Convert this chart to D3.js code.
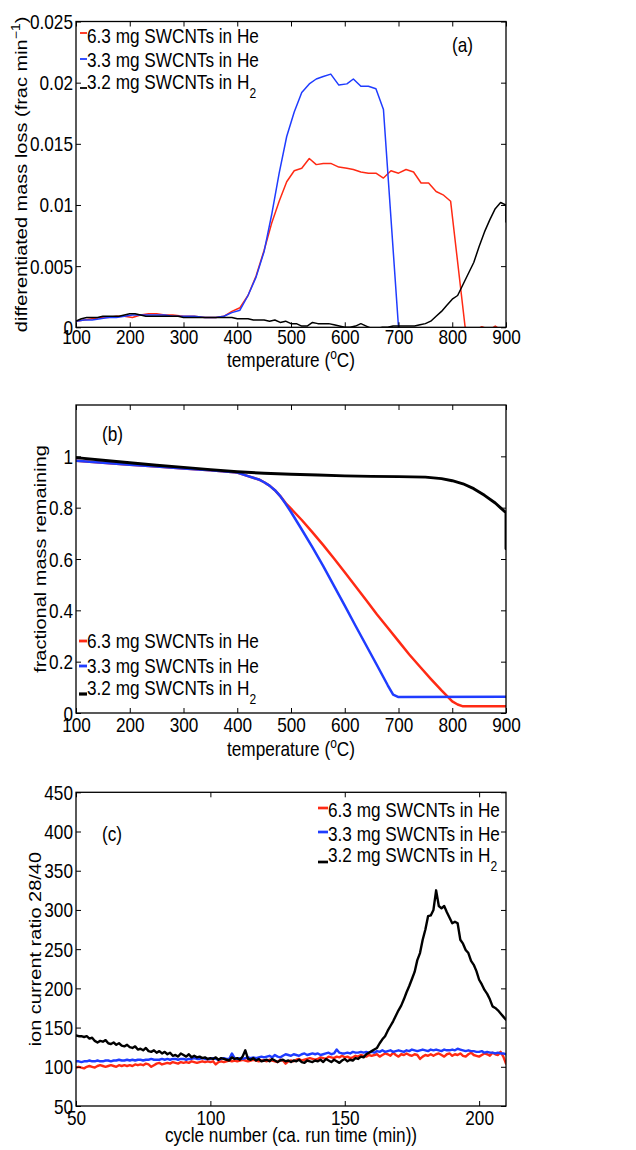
<!DOCTYPE html>
<html><head><meta charset="utf-8">
<script src="https://cdn.jsdelivr.net/npm/d3@7"></script>
<style>html,body{margin:0;padding:0;background:#fff;} svg{display:block;}</style>
</head><body><svg id="chart" width="636" height="1150"></svg>
<script>
// ---------------- DATA ----------------
const seriesNames = ["6.3 mg SWCNTs in He", "3.3 mg SWCNTs in He", "3.2 mg SWCNTs in H"];

// Panel (a): differentiated mass loss vs temperature
const tRedA = [100,115,130,145,160,175,190,205,220,235,250,265,280,300,320,340,360,375,390,405,420,435,450,464,478,492,506,520,534,547,560,574,589,604,616,630,644,658,672,686,700,714,728,742,756,770,784,797,824,840,855,870,880,890,900];
const vRedA = [0.0005,0.0006,0.0007,0.0008,0.0008,0.0009,0.0009,0.0008,0.0010,0.0011,0.0011,0.0010,0.0010,0.0009,0.0009,0.0008,0.0008,0.0009,0.0013,0.0016,0.0026,0.0042,0.0063,0.0085,0.0103,0.0119,0.0128,0.0130,0.0138,0.0133,0.0134,0.0134,0.0131,0.0130,0.0129,0.0127,0.0126,0.0126,0.0122,0.0128,0.0126,0.0129,0.0127,0.0118,0.0118,0.0111,0.0108,0.0103,0.0000,-0.0003,0.00005,-0.0002,0.0001,-0.0002,-0.0003];
const tBlueA = [100,115,130,145,160,175,190,205,220,235,250,265,280,300,320,340,360,375,390,405,420,435,450,464,478,492,506,520,534,547,560,574,589,604,616,630,644,658,672,700,720,760,800,850,898,900];
const vBlueA = [0.0005,0.0006,0.0006,0.0007,0.0008,0.0008,0.0009,0.0010,0.0010,0.0010,0.0010,0.0010,0.0009,0.0009,0.0009,0.0008,0.0008,0.0009,0.0012,0.0014,0.0026,0.0041,0.0062,0.0092,0.0126,0.0156,0.0176,0.0192,0.0199,0.0203,0.0205,0.0207,0.0198,0.0199,0.0203,0.0197,0.0197,0.0195,0.0178,0.0000,-0.0003,-0.0003,-0.0003,-0.0003,-0.0003,0.0000];
const tBlackA = [100,110,120,130,140,150,160,170,180,190,200,210,220,230,240,250,260,270,280,290,300,310,320,330,340,350,360,370,380,390,400,410,420,430,440,450,460,470,480,490,500,510,520,530,540,550,560,570,580,590,600,610,620,630,640,650,660,670,680,690,700,710,720,730,740,750,760,770,780,790,800,810,820,830,840,850,860,870,880,890,900,900];
const vBlackA = [0.0005,0.0007,0.0008,0.0008,0.0008,0.0009,0.0009,0.0009,0.0009,0.0010,0.0011,0.0011,0.0010,0.0009,0.0009,0.0009,0.0009,0.0009,0.0009,0.0009,0.0008,0.0008,0.0008,0.0008,0.0008,0.0008,0.0008,0.0008,0.0008,0.0008,0.0007,0.0007,0.0007,0.0006,0.0006,0.0006,0.0005,0.0006,0.0004,0.0005,0.0003,0.0003,0.0001,0.0001,0.0004,0.0003,0.0003,0.0003,0.0002,0.0001,0.0000,0.0000,0.0001,0.0003,0.0001,-0.0001,-0.0001,0.0000,0.0000,0.0001,0.0001,0.0001,0.0001,0.0001,0.0002,0.0003,0.0005,0.0009,0.0013,0.0018,0.0023,0.0026,0.0035,0.0044,0.0053,0.0066,0.0078,0.0088,0.0097,0.0102,0.0100,0.0086];
const xTicksA = [100,200,300,400,500,600,700,800,900];
const yTicksA = [0,0.005,0.01,0.015,0.02,0.025];
const yTickLabelsA = ["0","0.005","0.01","0.015","0.02","0.025"];

// Panel (b): fractional mass remaining vs temperature
const tRedB = [100,150,200,250,300,350,400,420,440,450,460,470,480,490,500,520,540,560,580,600,620,640,660,680,700,720,740,760,780,800,810,820,900];
const vRedB = [0.983,0.975,0.967,0.960,0.953,0.946,0.937,0.923,0.910,0.899,0.886,0.868,0.845,0.818,0.796,0.752,0.704,0.654,0.602,0.548,0.494,0.439,0.384,0.332,0.280,0.228,0.180,0.133,0.088,0.045,0.033,0.026,0.026];
const tBlueB = [100,150,200,250,300,350,400,420,440,450,460,470,480,490,500,520,540,560,580,600,620,640,660,680,690,700,900];
const vBlueB = [0.983,0.975,0.967,0.960,0.953,0.946,0.937,0.923,0.910,0.899,0.886,0.868,0.845,0.815,0.783,0.715,0.645,0.572,0.495,0.418,0.340,0.263,0.186,0.108,0.072,0.062,0.063];
const tBlackB = [100,150,200,250,300,350,400,450,500,550,600,650,700,750,780,800,820,840,860,880,890,900,900];
const vBlackB = [0.995,0.985,0.975,0.965,0.957,0.948,0.940,0.934,0.930,0.927,0.924,0.922,0.921,0.919,0.913,0.905,0.893,0.874,0.848,0.818,0.799,0.780,0.640];
const xTicksB = [100,200,300,400,500,600,700,800,900];
const yTicksB = [0,0.2,0.4,0.6,0.8,1];
const yTickLabelsB = ["0","0.2","0.4","0.6","0.8","1"];

// Panel (c): ion current ratio 28/40 vs cycle number (cycles 50..210)
const cycleFirst = 50, cycleLast = 210;
const ionRed = [99,100,99,98,100,101,100,99,101,102, 101,100,101,102,101,100,102,101,102,101, 102,101,103,102,103,102,104,103,100,102, 104,105,103,104,105,104,106,105,104,106, 105,106,105,107,106,105,106,107,106,107, 106,107,103,106,107,106,107,108,107,108, 107,108,109,108,107,108,109,108,107,108, 108,107,109,108,107,106,109,108,104,107, 108,107,109,110,108,109,110,111,110,109, 110,112,111,110,113,112,111,113,112,114, 112,113,111,112,114,113,115,114,113,115, 114,115,116,113,115,117,116,114,118,115, 113,116,115,117,115,114,116,115,110,113, 115,114,116,114,116,117,115,113,116,117, 114,116,115,117,114,113,116,118,115,114, 113,115,117,116,114,118,116,115,119,113, 104];
const ionBlue = [107,107,106,107,107,108,107,107,108,107, 107,108,108,107,108,108,109,108,108,109, 108,109,108,109,109,108,109,109,110,109, 109,109,110,109,110,109,110,110,109,110, 110,109,110,110,111,110,110,111,110,110, 110,111,110,109,110,111,110,110,117,111, 110,111,110,111,112,111,112,111,112,113, 112,113,114,112,115,113,112,114,116,115, 114,116,115,114,116,117,115,116,117,116, 117,115,116,117,118,116,117,122,118,117, 117,118,117,119,118,118,119,118,119,118, 119,118,120,119,121,119,120,121,119,120, 121,120,119,121,120,122,121,120,121,122, 121,120,122,121,122,121,120,122,121,121, 122,121,123,122,121,120,121,120,120,119, 119,120,118,119,118,118,117,118,117,117, 116];
const ionBlack = [140,139,139,138,139,136,137,133,131,133, 132,134,130,129,131,128,130,127,126,128, 125,124,126,122,123,121,124,120,119,121, 118,120,117,119,116,118,114,115,113,117, 115,113,116,112,114,112,113,111,112,110, 111,110,112,109,111,110,109,108,112,110, 111,109,113,121,110,109,111,108,110,107, 108,109,107,110,108,106,108,109,107,108, 106,108,107,109,106,105,108,107,106,108, 107,109,106,110,108,106,109,107,105,108, 110,107,109,108,111,110,113,112,116,118, 120,122,124,130,135,139,146,152,158,165, 172,178,186,195,203,212,221,236,245,262, 275,292,293,300,325,305,302,305,297,290, 283,285,283,262,257,249,245,235,230,222, 211,205,198,193,186,177,175,172,168,164, 160];
const xTicksC = [50,100,150,200];
const yTicksC = [50,100,150,200,250,300,350,400,450];

// ---------------- DRAWING ----------------
const FONT = "'Liberation Sans', Arial, Helvetica, sans-serif";
const SX = 0.86, FS = 20;
const RED = "#ff2a14", BLUE = "#1f3cff", BLACK = "#000000";
const svg = d3.select("#chart");
const X0 = 76, X1 = 506;

function hText(g, x, y, anchor, size) {
  return g.append("text")
    .attr("transform", `translate(${x},${y}) scale(${SX},1)`)
    .attr("text-anchor", anchor).attr("font-family", FONT)
    .attr("font-size", size || FS).attr("fill", "#000");
}

function panel(opts) {
  const g = svg.append("g");
  const x = d3.scaleLinear().domain(opts.xDomain).range([X0, X1]);
  const y = d3.scaleLinear().domain(opts.yDomain).range([opts.bottom, opts.top]);
  const id = "clip" + opts.name;
  svg.append("clipPath").attr("id", id).append("rect")
    .attr("x", X0).attr("y", opts.top).attr("width", X1 - X0).attr("height", opts.bottom - opts.top);

  const line = d3.line().x(d => x(d[0])).y(d => y(d[1]));
  const lg = g.append("g").attr("clip-path", `url(#${id})`);
  opts.series.forEach(s => {
    lg.append("path").datum(d3.zip(s.t, s.v)).attr("d", line)
      .attr("fill", "none").attr("stroke", s.color).attr("stroke-width", s.w)
      .attr("stroke-linejoin", "round").attr("stroke-linecap", "round");
  });

  const styleAxis = (sel) => { sel.select(".domain").remove(); sel.attr("font-family", FONT).attr("font-size", FS); };
  g.append("g").attr("transform", `translate(0,${opts.bottom})`)
    .call(d3.axisBottom(x).tickValues(opts.xTicks).tickSize(-5).tickFormat(d => String(d)))
    .call(styleAxis)
    .call(a => a.selectAll(".tick text").attr("x", null).attr("y", null).attr("dy", null)
      .attr("transform", `translate(0,${opts.xLabOff}) scale(${SX},1)`));
  g.append("g").attr("transform", `translate(0,${opts.top})`)
    .call(d3.axisTop(x).tickValues(opts.xTicks).tickSize(-5).tickFormat(""))
    .call(styleAxis);
  g.append("g").attr("transform", `translate(${X0},0)`)
    .call(d3.axisLeft(y).tickValues(opts.yTicks).tickSize(-5).tickFormat((d, i) => opts.yLabels[i]))
    .call(styleAxis)
    .call(a => a.selectAll(".tick text").attr("x", null).attr("y", null).attr("dy", null)
      .attr("text-anchor", "end")
      .attr("transform", `translate(-3,7) scale(${SX},1)`));
  g.append("g").attr("transform", `translate(${X1},0)`)
    .call(d3.axisRight(y).tickValues(opts.yTicks).tickSize(-5).tickFormat(""))
    .call(styleAxis);
  g.selectAll(".tick line").attr("stroke", "#000").attr("stroke-width", 1);

  g.append("rect").attr("x", X0).attr("y", opts.top).attr("width", X1 - X0).attr("height", opts.bottom - opts.top)
    .attr("fill", "none").attr("stroke", "#000").attr("stroke-width", 1.3);

  const xl = hText(g, (X0 + X1) / 2, opts.xLabelY, "middle");
  opts.xLabel(xl);
  const yl = g.append("text")
    .attr("transform", `translate(${opts.yLabelX},${(opts.top + opts.bottom) / 2}) rotate(-90) scale(1,${SX})`)
    .attr("text-anchor", "middle").attr("font-family", FONT).attr("font-size", FS);
  opts.yLabel(yl);

  hText(g, opts.tag[1], opts.tag[2], "start").text(opts.tag[0]);

  const L = opts.legend;
  opts.series.forEach((s, i) => {
    g.append("line").attr("x1", L.mx0).attr("x2", L.mx1).attr("y1", L.my[i]).attr("y2", L.my[i])
      .attr("stroke", s.color).attr("stroke-width", s.w + 0.3);
    const t = hText(g, L.mx1, L.ty[i], "start");
    t.append("tspan").text(seriesNames[i]);
    if (i === 2) t.append("tspan").attr("font-size", 14).attr("dy", 9).text("2");
  });
  return g;
}

const tempLabel = t => {
  t.append("tspan").text("temperature (");
  t.append("tspan").attr("font-size", 14).attr("dy", -8).text("o");
  t.append("tspan").attr("dy", 8).text("C)");
};

// (a)
panel({
  name: "a", xDomain: [100, 900], yDomain: [0, 0.025], top: 21.5, bottom: 327.3,
  xTicks: xTicksA, yTicks: yTicksA, yLabels: yTickLabelsA, xLabOff: 17,
  series: [
    { t: tRedA, v: vRedA, color: RED, w: 1.5 },
    { t: tBlueA, v: vBlueA, color: BLUE, w: 1.5 },
    { t: tBlackA, v: vBlackA, color: BLACK, w: 1.5 }
  ],
  xLabelY: 367, xLabel: tempLabel,
  yLabelX: 27,
  yLabel: t => {
    t.append("tspan").text("differentiated mass loss (frac min");
    t.append("tspan").attr("font-size", 14).attr("dy", -8).text("\u22121");
    t.append("tspan").attr("dy", 8).text(")");
  },
  tag: ["(a)", 452, 52],
  legend: { mx0: 80, mx1: 87, my: [33, 59, 88], ty: [43, 67, 89] }
});

// (b)
panel({
  name: "b", xDomain: [100, 900], yDomain: [0, 1.2], top: 405, bottom: 713,
  xTicks: xTicksB, yTicks: yTicksB, yLabels: yTickLabelsB, xLabOff: 19,
  series: [
    { t: tRedB, v: vRedB, color: RED, w: 2.5 },
    { t: tBlueB, v: vBlueB, color: BLUE, w: 2.5 },
    { t: tBlackB, v: vBlackB, color: BLACK, w: 2.9 }
  ],
  xLabelY: 756, xLabel: tempLabel,
  yLabelX: 46,
  yLabel: t => t.text("fractional mass remaining"),
  tag: ["(b)", 102, 441],
  legend: { mx0: 79, mx1: 87, my: [641, 666, 694], ty: [648, 673, 695] }
});

// (c)
const cycles = d3.range(cycleFirst, cycleLast + 1);
panel({
  name: "c", xDomain: [50, 210], yDomain: [50, 450], top: 792.3, bottom: 1106,
  xTicks: xTicksC, yTicks: yTicksC, yLabels: yTicksC.map(String), xLabOff: 19,
  series: [
    { t: cycles, v: ionRed, color: RED, w: 2.4 },
    { t: cycles, v: ionBlue, color: BLUE, w: 2.4 },
    { t: cycles, v: ionBlack, color: BLACK, w: 2.4 }
  ],
  xLabelY: 1142, xLabel: t => t.text("cycle number (ca. run time (min))"),
  yLabelX: 41,
  yLabel: t => t.text("ion current ratio 28/40"),
  tag: ["(c)", 102, 841],
  legend: { mx0: 318, mx1: 328, my: [808, 832, 862], ty: [817, 841, 862] }
});
</script>
</body></html>
